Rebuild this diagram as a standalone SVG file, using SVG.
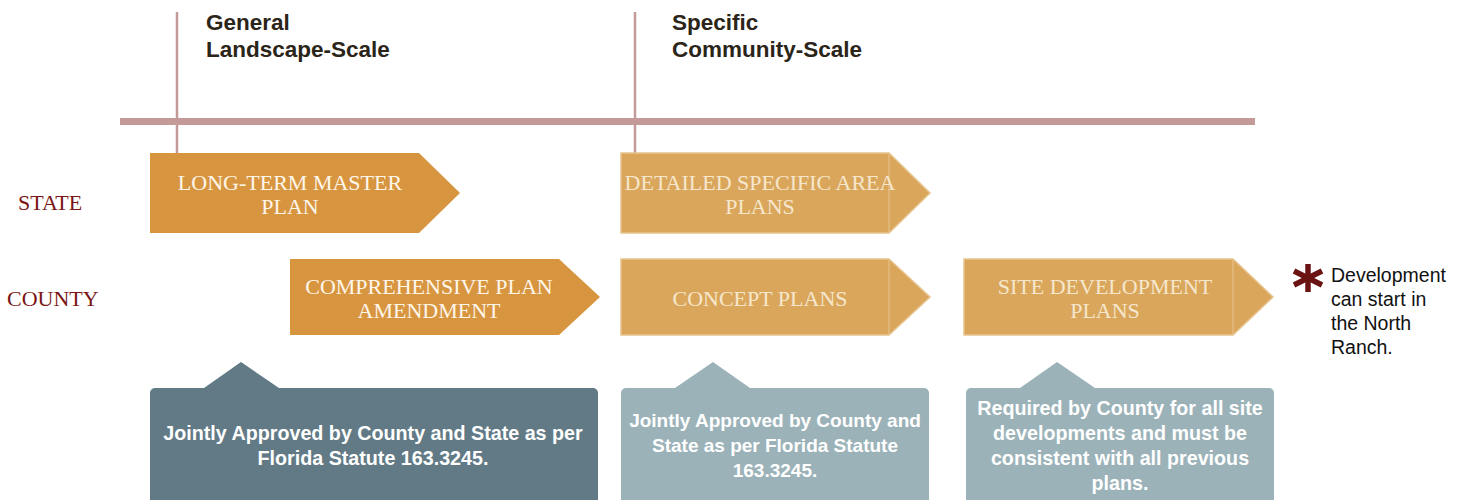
<svg xmlns="http://www.w3.org/2000/svg" width="1466" height="500" viewBox="0 0 1466 500">
<style>
.hdr{font-family:"Liberation Sans",Arial,sans-serif;font-weight:bold;font-size:22.5px;fill:#2b2418}
.row{font-family:"Liberation Serif","Times New Roman",serif;font-size:22px;fill:#7a1616}
.at{font-family:"Liberation Serif","Times New Roman",serif;font-size:22px;text-anchor:middle}
.dark{fill:#d79540}
.light{fill:#d9a65c;stroke:#e7c48f;stroke-width:1.5}
.t1{fill:#fff6ea}
.t2{fill:#f6e7cc}
.ct{font-family:"Liberation Sans",Arial,sans-serif;font-weight:bold;font-size:19px;fill:#ffffff;text-anchor:middle}
.ct.mid{font-size:19.7px}
.note{font-family:"Liberation Sans",Arial,sans-serif;font-size:19.5px;fill:#111111}
.rule{stroke:#c49a98}
</style>
<g id="axes">
<line class="rule" x1="177" y1="12" x2="177" y2="153" stroke-width="2.5"/>
<line class="rule" x1="635" y1="12" x2="635" y2="153" stroke-width="2.5"/>
<rect x="120" y="118" width="1135" height="7" fill="#c49a98"/>
</g>
<g id="header-general">
<text class="hdr" x="206" y="30">General</text>
<text class="hdr" x="206" y="57">Landscape-Scale</text>
</g>
<g id="header-specific">
<text class="hdr" x="672" y="30">Specific</text>
<text class="hdr" x="672" y="57">Community-Scale</text>
</g>
<g id="label-state"><text class="row" x="18" y="210">STATE</text></g>
<g id="label-county"><text class="row" x="7" y="306">COUNTY</text></g>
<g id="long-term-master-plan">
<polygon class="dark" points="150,153 419,153 460,193 419,233 150,233"/>
<text class="at t1" x="290" y="190">LONG-TERM MASTER</text>
<text class="at t1" x="290" y="214">PLAN</text>
</g>
<g id="comprehensive-plan-amendment">
<polygon class="dark" points="290,259 559,259 600,297 559,335 290,335"/>
<text class="at t1" x="429" y="294">COMPREHENSIVE PLAN</text>
<text class="at t1" x="429" y="318">AMENDMENT</text>
</g>
<g id="detailed-specific-area-plans">
<polygon class="light" points="621,153 889,153 930,193 889,233 621,233"/>
<line x1="889" y1="153" x2="889" y2="233" stroke="#e7c48f" stroke-width="1"/>
<text class="at t2" x="760" y="190">DETAILED SPECIFIC AREA</text>
<text class="at t2" x="760" y="214">PLANS</text>
</g>
<g id="concept-plans">
<polygon class="light" points="621,259 889,259 930,297 889,335 621,335"/>
<line x1="889" y1="259" x2="889" y2="335" stroke="#e7c48f" stroke-width="1"/>
<text class="at t2" x="760" y="306">CONCEPT PLANS</text>
</g>
<g id="site-development-plans">
<polygon class="light" points="964,259 1233,259 1273,297 1233,335 964,335"/>
<line x1="1233" y1="259" x2="1233" y2="335" stroke="#e7c48f" stroke-width="1"/>
<text class="at t2" x="1105" y="294">SITE DEVELOPMENT</text>
<text class="at t2" x="1105" y="318">PLANS</text>
</g>
<g id="note-state-county">
<polygon points="204,388 241,362 279,388" fill="#627a86"/>
<rect x="150" y="388" width="448" height="120" rx="5" fill="#627a86"/>
<text class="ct mid" x="373" y="440">Jointly Approved by County and State as per</text>
<text class="ct mid" x="373" y="465">Florida Statute 163.3245.</text>
</g>
<g id="note-concept">
<polygon points="675,388 713,362 750,388" fill="#9bb2b9"/>
<rect x="621" y="388" width="308" height="120" rx="5" fill="#9bb2b9"/>
<text class="ct" x="775" y="427">Jointly Approved by County and</text>
<text class="ct" x="775" y="452">State as per Florida Statute</text>
<text class="ct" x="775" y="477">163.3245.</text>
</g>
<g id="note-site">
<polygon points="1020,388 1057,362 1095,388" fill="#9bb2b9"/>
<rect x="966" y="388" width="308" height="120" rx="5" fill="#9bb2b9"/>
<text class="ct mid" x="1120" y="415">Required by County for all site</text>
<text class="ct mid" x="1120" y="440">developments and must be</text>
<text class="ct mid" x="1120" y="465">consistent with all previous</text>
<text class="ct mid" x="1120" y="490">plans.</text>
</g>
<g id="development-note">
<g stroke="#6b1212" stroke-width="5.5">
<line x1="1308" y1="264" x2="1308" y2="292"/>
<line x1="1294" y1="271" x2="1322" y2="285"/>
<line x1="1294" y1="285" x2="1322" y2="271"/>
</g>
<text class="note" x="1331" y="282">Development</text>
<text class="note" x="1331" y="306">can start in</text>
<text class="note" x="1331" y="330">the North</text>
<text class="note" x="1331" y="354">Ranch.</text>
</g>
</svg>
